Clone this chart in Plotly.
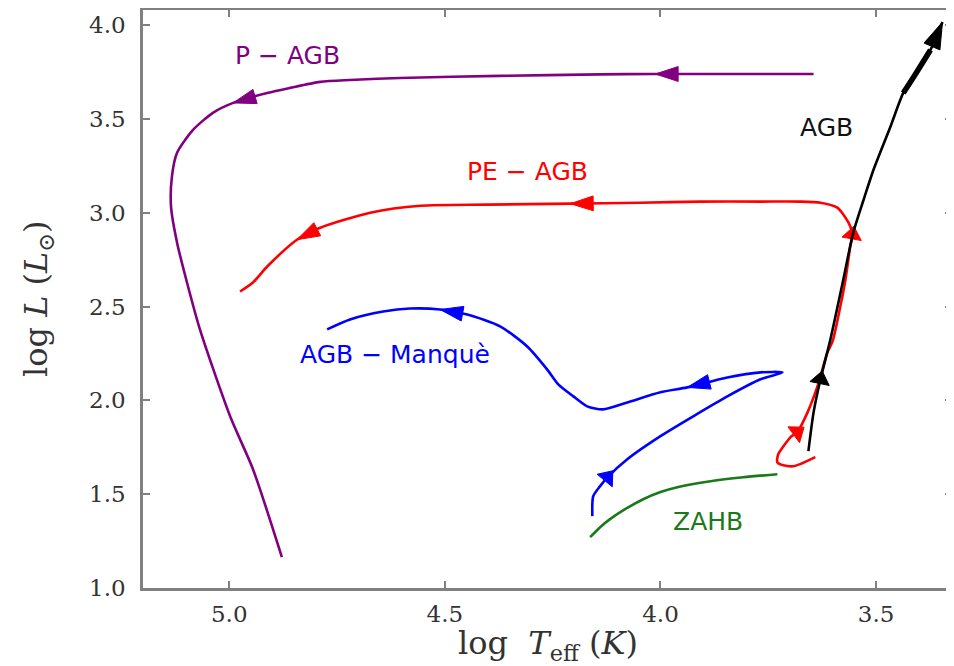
import plotly.graph_objects as go

# ---------------- data (log Teff [K], log L [Lsun]) ----------------
pagb_logT = [3.645, 3.908, 4.012, 4.140, 4.372, 4.604, 4.720, 4.789, 4.859, 4.912,
             4.991, 5.038, 5.084, 5.121, 5.133, 5.135, 5.121, 5.098, 5.068, 4.998,
             4.945, 4.878]
pagb_logL = [3.739, 3.739, 3.739, 3.737, 3.729, 3.718, 3.707, 3.697, 3.665, 3.638,
             3.585, 3.532, 3.441, 3.319, 3.191, 3.032, 2.840, 2.628, 2.378, 1.915,
             1.633, 1.165]
pagb_arrows = [(2, "h"), (10, "h")]

peagb_logT = [3.641, 3.676, 3.692, 3.715, 3.729, 3.727, 3.715, 3.699, 3.683, 3.659,
              3.636, 3.613, 3.601, 3.583, 3.571, 3.560, 3.555, 3.564, 3.590, 3.629,
              3.676, 3.768, 3.908, 4.047, 4.209, 4.402, 4.557, 4.673, 4.789, 4.843,
              4.912, 4.945, 4.975]
peagb_logL = [1.697, 1.660, 1.649, 1.654, 1.670, 1.713, 1.755, 1.803, 1.830, 1.936,
              2.074, 2.255, 2.314, 2.500, 2.644, 2.819, 2.883, 2.947, 3.027, 3.053,
              3.059, 3.059, 3.059, 3.053, 3.048, 3.043, 3.037, 3.000, 2.920, 2.856,
              2.713, 2.628, 2.580]
peagb_arrows = [(8, "v"), (16, "v"), (24, "h"), (29, "h")]

manque_logT = [4.158, 4.156, 4.140, 4.123, 4.077, 4.000, 3.924, 3.845, 3.768, 3.717,
               3.768, 3.845, 3.938, 4.000, 4.077, 4.133, 4.170, 4.202, 4.237, 4.263,
               4.309, 4.372, 4.448, 4.511, 4.581, 4.643, 4.720, 4.773]
manque_logL = [1.383, 1.489, 1.543, 1.590, 1.686, 1.809, 1.915, 2.021, 2.112, 2.149,
               2.149, 2.122, 2.069, 2.043, 1.989, 1.952, 1.968, 2.021, 2.085, 2.165,
               2.287, 2.394, 2.457, 2.484, 2.489, 2.473, 2.431, 2.378]
manque_arrows = [(3, "v"), (12, "h"), (23, "h")]

zahb_logT = [4.163, 4.140, 4.117, 4.082, 4.040, 4.000, 3.961, 3.884, 3.808, 3.729]
zahb_logL = [1.271, 1.324, 1.367, 1.420, 1.473, 1.511, 1.537, 1.569, 1.590, 1.606]

agb_logT = [3.657, 3.645, 3.629, 3.606, 3.576, 3.553, 3.529, 3.506, 3.467, 3.437,
            3.413, 3.374, 3.346]
agb_logL = [1.729, 1.936, 2.112, 2.324, 2.644, 2.894, 3.069, 3.229, 3.457, 3.638,
            3.723, 3.867, 4.016]
agb_arrows = [(2, "v"), (12, "top")]

x_ticks = [5.0, 4.5, 4.0, 3.5]
y_ticks = [1.0, 1.5, 2.0, 2.5, 3.0, 3.5, 4.0]

# ---------------- styling ----------------
C_PAGB = "#800080"
C_PE = "#ff0000"
C_MANQUE = "#0000ff"
C_ZAHB = "#1a7a1a"
C_AGB = "#000000"
ARROW_STYLE = {"h": ("arrow", 24), "v": ("triangle-up", 17), "top": ("arrow", 28)}
SERIF = "DejaVu Serif"
AXIS_GREY = "#808080"
TEXT_GREY = "#333333"


def track(x, y, color, arrows=(), width=2.6):
    n = len(x)
    sizes = [0] * n
    symbols = ["arrow"] * n
    for idx, kind in arrows:
        sym, size = ARROW_STYLE[kind]
        symbols[idx] = sym
        sizes[idx] = size
    return go.Scatter(
        x=x, y=y, mode="lines+markers", cliponaxis=False,
        line=dict(color=color, width=width, backoff=0, shape="spline", smoothing=0.7),
        marker=dict(size=sizes, symbol=symbols, angleref="previous", opacity=1,
                    color=color, line=dict(width=1, color=color)),
        hoverinfo="skip", showlegend=False,
    )


fig = go.Figure()
fig.add_trace(track(pagb_logT, pagb_logL, C_PAGB, pagb_arrows))
fig.add_trace(track(peagb_logT, peagb_logL, C_PE, peagb_arrows))
fig.add_trace(track(manque_logT, manque_logL, C_MANQUE, manque_arrows))
fig.add_trace(track(zahb_logT, zahb_logL, C_ZAHB))
fig.add_trace(track(agb_logT, agb_logL, C_AGB, agb_arrows))
# thicker upper part of the AGB track
fig.add_trace(go.Scatter(x=agb_logT[9:12], y=agb_logL[9:12], mode="lines",
                         cliponaxis=False,
                         line=dict(color=C_AGB, width=5.5, shape="spline"),
                         hoverinfo="skip", showlegend=False))

labels = [
    ("P − AGB", 4.866, 3.840, C_PAGB),
    ("AGB", 3.615, 3.452, "#111111"),
    ("PE − AGB", 4.309, 3.218, C_PE),
    ("AGB − Manquè", 4.615, 2.245, C_MANQUE),
    ("ZAHB", 3.889, 1.356, C_ZAHB),
]
for text, lx, ly, col in labels:
    fig.add_annotation(x=lx, y=ly, text=text, showarrow=False,
                       font=dict(family="DejaVu Sans", size=25, color=col),
                       xanchor="center", yanchor="middle")

# axis titles
fig.add_annotation(xref="paper", yref="paper", x=0.5, y=0, yshift=-57,
                   text="log  <i>T</i><sub>eff</sub> (<i>K</i>)", showarrow=False,
                   xanchor="center", yanchor="middle",
                   font=dict(family=SERIF, size=32, color=TEXT_GREY))
fig.add_annotation(xref="paper", yref="paper", x=0, y=0.5, xshift=-105,
                   text="log <i>L</i> (<i>L</i><sub>⊙</sub>)", showarrow=False,
                   textangle=-90, xanchor="center", yanchor="middle",
                   font=dict(family=SERIF, size=32, color=TEXT_GREY))

axis_common = dict(
    showline=True, linecolor=AXIS_GREY, linewidth=2.5, mirror="ticks",
    ticks="inside", ticklen=7, tickwidth=1.5, tickcolor=AXIS_GREY,
    showgrid=False, zeroline=False, automargin=False,
    tickfont=dict(family=SERIF, size=23, color=TEXT_GREY),
)

fig.update_xaxes(range=[5.2, 3.324], tickvals=x_ticks,
                 ticktext=[f"{v:.1f}" for v in x_ticks],
                 ticklabelstandoff=4, **axis_common)
fig.update_yaxes(range=[1.0, 4.08], tickvals=y_ticks,
                 ticktext=[f"{v:.1f}" for v in y_ticks],
                 ticklabelstandoff=10, **axis_common)

# the page places the figure 8px from the top-left corner, so the figure is
# sized to the remaining 946x658 area of the 954x666 window
fig.update_layout(
    width=946, height=658,
    margin=dict(l=135, r=2, t=2, b=78),
    paper_bgcolor="white", plot_bgcolor="white",
    showlegend=False,
)

fig.write_html("out.html")
